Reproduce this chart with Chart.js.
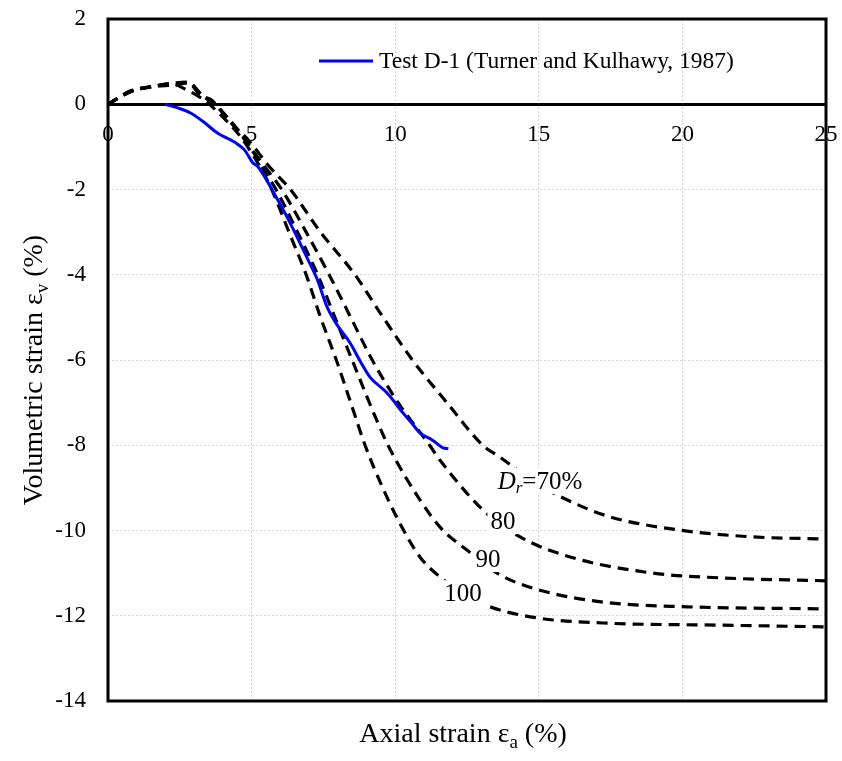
<!DOCTYPE html>
<html>
<head>
<meta charset="utf-8">
<title>Volumetric strain vs axial strain</title>
<script src="https://cdn.jsdelivr.net/npm/chart.js@4.4.0/dist/chart.umd.min.js"></script>
<style>
  html, body { margin: 0; padding: 0; background: #fff; }
  canvas { display: block; }
</style>
</head>
<body>
<canvas id="strainChart" width="842" height="761"></canvas>
<script>
// Test D-1 (Turner and Kulhawy, 1987) - axial strain (%) / volumetric strain (%)
const testAxial = [1.98, 2.4, 2.86, 3.3, 3.8, 4.5, 4.75, 5.05, 5.2, 5.75, 6.2, 6.58, 7.0, 7.28, 7.63, 8.0, 8.43, 8.8, 9.12, 9.71, 10.27, 10.6, 10.86, 11.3, 11.66, 11.85];
const testVol   = [0, -0.08, -0.2, -0.4, -0.67, -0.93, -1.07, -1.38, -1.45, -2.05, -2.6, -3.11, -3.7, -4.1, -4.76, -5.2, -5.6, -6.05, -6.4, -6.77, -7.24, -7.5, -7.71, -7.88, -8.06, -8.08];

// model curves, one per relative density
const dr70Axial = [0, 0.8, 1.6, 2.3, 2.8, 3.2, 3.6, 4.3, 4.9, 5.6, 6.35, 7.4, 8.6, 9.58, 10.6, 11.8, 13.05, 13.65, 14.8, 15.98, 17.48, 19.9, 22.46, 25];
const dr70Vol   = [0, 0.3, 0.42, 0.45, 0.5, 0.22, 0.1, -0.45, -0.85, -1.45, -2.0, -3.0, -4.0, -5.0, -6.0, -7.0, -8.0, -8.28, -8.85, -9.28, -9.68, -9.99, -10.15, -10.2];

const dr80Axial = [0, 0.8, 1.6, 2.3, 2.8, 3.3, 3.8, 4.5, 5.0, 5.5, 6.05, 6.9, 7.7, 8.45, 9.2, 10.1, 11.2, 11.56, 13.06, 14.35, 16.09, 18.98, 21.3, 25];
const dr80Vol   = [0, 0.3, 0.42, 0.48, 0.5, 0.2, -0.05, -0.6, -1.05, -1.5, -2.0, -3.0, -4.0, -5.0, -6.0, -7.0, -8.0, -8.35, -9.52, -10.15, -10.62, -11.0, -11.11, -11.18];

const dr90Axial = [0, 0.8, 1.6, 2.3, 2.8, 3.2, 3.7, 4.4, 4.9, 5.3, 5.85, 6.6, 7.3, 7.9, 8.5, 9.1, 9.75, 10.86, 11.6, 12.5, 13.65, 15.04, 17.24, 20.16, 25];
const dr90Vol   = [0, 0.3, 0.42, 0.5, 0.52, 0.25, 0.0, -0.5, -0.95, -1.4, -2.0, -3.0, -4.0, -5.0, -6.0, -7.0, -8.0, -9.28, -9.95, -10.46, -11.04, -11.4, -11.68, -11.79, -11.84];

const dr100Axial = [0, 0.8, 1.6, 2.2, 2.7, 3.3, 4.0, 4.6, 5.1, 5.7, 6.3, 6.9, 7.4, 7.95, 8.45, 8.95, 9.5, 10.1, 10.86, 11.56, 12.4, 13.3, 14.94, 17.24, 21.3, 25];
const dr100Vol   = [0, 0.32, 0.42, 0.48, 0.35, 0.12, -0.3, -0.75, -1.25, -2.0, -3.0, -4.0, -5.0, -6.0, -7.0, -8.0, -8.9, -9.75, -10.62, -11.09, -11.5, -11.79, -12.05, -12.17, -12.22, -12.26];

const xTicks = [0, 5, 10, 15, 20, 25];
const yTicks = [2, 0, -2, -4, -6, -8, -10, -12, -14];

const serif = "'Liberation Serif', 'Times New Roman', serif";

function pts(xs, ys) {
    return xs.map((x, i) => ({ x: x, y: ys[i] }));
}

function dashed(xs, ys) {
    return {
        label: '',
        data: pts(xs, ys),
        showLine: true,
        borderColor: '#000',
        borderWidth: 3.2,
        borderDash: [11, 7],
        pointRadius: 0,
        cubicInterpolationMode: 'monotone',
        fill: false
    };
}

// no label overflow padding: the plot box is fixed by layout.padding
function noPad(s) {
    s.paddingTop = 0;
    s.paddingBottom = 0;
    s.paddingLeft = 0;
    s.paddingRight = 0;
}

// draws a row of text pieces (for subscripts / italics), centred on x
function drawRuns(ctx, runs, x, y, align) {
    let w = 0;
    runs.forEach(r => { ctx.font = r.font; w += ctx.measureText(r.t).width; });
    let cx = align === 'left' ? x : x - w / 2;
    runs.forEach(r => {
        ctx.font = r.font;
        ctx.fillText(r.t, cx, y + (r.dy || 0));
        cx += ctx.measureText(r.t).width;
    });
    return w;
}

const curveLabels = [
    { x: 15.04, y: -8.84, runs: [
        { t: 'D', font: 'italic 25px ' + serif },
        { t: 'r', font: 'italic 17px ' + serif, dy: 6 },
        { t: '=70%', font: '25px ' + serif }] },
    { x: 13.75, y: -9.78, runs: [{ t: '80', font: '25px ' + serif }] },
    { x: 13.23, y: -10.67, runs: [{ t: '90', font: '25px ' + serif }] },
    { x: 12.36, y: -11.47, runs: [{ t: '100', font: '25px ' + serif }] }
];

const decorations = {
    id: 'decorations',
    afterDatasetsDraw(chart) {
        const ctx = chart.ctx;
        const a = chart.chartArea;
        const sx = chart.scales.x, sy = chart.scales.y;
        ctx.save();
        ctx.textBaseline = 'middle';
        ctx.fillStyle = '#000';

        // curve labels on white boxes
        curveLabels.forEach(l => {
            const px = sx.getPixelForValue(l.x), py = sy.getPixelForValue(l.y);
            let w = 0;
            l.runs.forEach(r => { ctx.font = r.font; w += ctx.measureText(r.t).width; });
            ctx.fillStyle = '#fff';
            ctx.fillRect(px - w / 2 - 3, py - 13, w + 6, 26);
            ctx.fillStyle = '#000';
            drawRuns(ctx, l.runs, px, py + 1, 'center');
        });

        // legend
        const ds = chart.data.datasets[0];
        ctx.strokeStyle = ds.borderColor;
        ctx.lineWidth = 3;
        ctx.beginPath();
        ctx.moveTo(319, 61);
        ctx.lineTo(373, 61);
        ctx.stroke();
        ctx.font = '23.5px ' + serif;
        ctx.textAlign = 'left';
        ctx.fillText(ds.label, 379, 62);

        // frame
        ctx.strokeStyle = '#000';
        ctx.lineWidth = 3;
        ctx.strokeRect(a.left, a.top, a.right - a.left, a.bottom - a.top);

        // axis titles
        ctx.textBaseline = 'alphabetic';
        drawRuns(ctx, [
            { t: 'Axial strain ε', font: '28px ' + serif },
            { t: 'a', font: '19px ' + serif, dy: 6 },
            { t: ' (%)', font: '28px ' + serif }
        ], (a.left + a.right) / 2 - 4, 742, 'center');

        ctx.translate(42, (a.top + a.bottom) / 2 + 10);
        ctx.rotate(-Math.PI / 2);
        drawRuns(ctx, [
            { t: 'Volumetric strain ε', font: '28px ' + serif },
            { t: 'v', font: '19px ' + serif, dy: 6 },
            { t: ' (%)', font: '28px ' + serif }
        ], 0, 0, 'center');
        ctx.restore();
    }
};

const gridStyle = {
    color: '#d4d4d4',
    lineWidth: 1,
    drawTicks: false
};

new Chart(document.getElementById('strainChart').getContext('2d'), {
    type: 'scatter',
    data: {
        datasets: [
            {
                label: 'Test D-1 (Turner and Kulhawy, 1987)',
                data: pts(testAxial, testVol),
                showLine: true,
                borderColor: '#0000ff',
                borderWidth: 3,
                pointRadius: 0,
                cubicInterpolationMode: 'monotone',
                fill: false
            },
            dashed(dr70Axial, dr70Vol),
            dashed(dr80Axial, dr80Vol),
            dashed(dr90Axial, dr90Vol),
            dashed(dr100Axial, dr100Vol)
        ]
    },
    options: {
        responsive: false,
        animation: false,
        layout: { padding: { top: 19, right: 16, left: 0, bottom: 0 } },
        plugins: {
            legend: { display: false },
            tooltip: { enabled: false }
        },
        scales: {
            x: {
                type: 'linear',
                min: 0,
                max: 25,
                position: 'bottom',
                afterBuildTicks: s => { s.ticks = xTicks.map(v => ({ value: v })); },
                afterFit: s => { s.height = 60; noPad(s); },
                ticks: { display: false },
                grid: gridStyle,
                border: { display: false, dash: [2, 2] }
            },
            xZero: {
                type: 'linear',
                axis: 'x',
                min: 0,
                max: 25,
                position: { y: 0 },
                afterBuildTicks: s => { s.ticks = xTicks.map(v => ({ value: v })); },
                afterFit: noPad,
                ticks: { color: '#000', padding: 17, font: { family: serif, size: 23 } },
                grid: { display: false, drawTicks: false },
                border: { display: true, color: '#000', width: 3 }
            },
            y: {
                type: 'linear',
                min: -14,
                max: 2,
                position: 'left',
                afterBuildTicks: s => { s.ticks = yTicks.map(v => ({ value: v })); },
                afterFit: s => { s.width = 108; noPad(s); },
                ticks: { color: '#000', padding: 22, font: { family: serif, size: 23 } },
                grid: gridStyle,
                border: { display: false, dash: [2, 2] }
            }
        }
    },
    plugins: [decorations]
});
</script>
</body>
</html>
